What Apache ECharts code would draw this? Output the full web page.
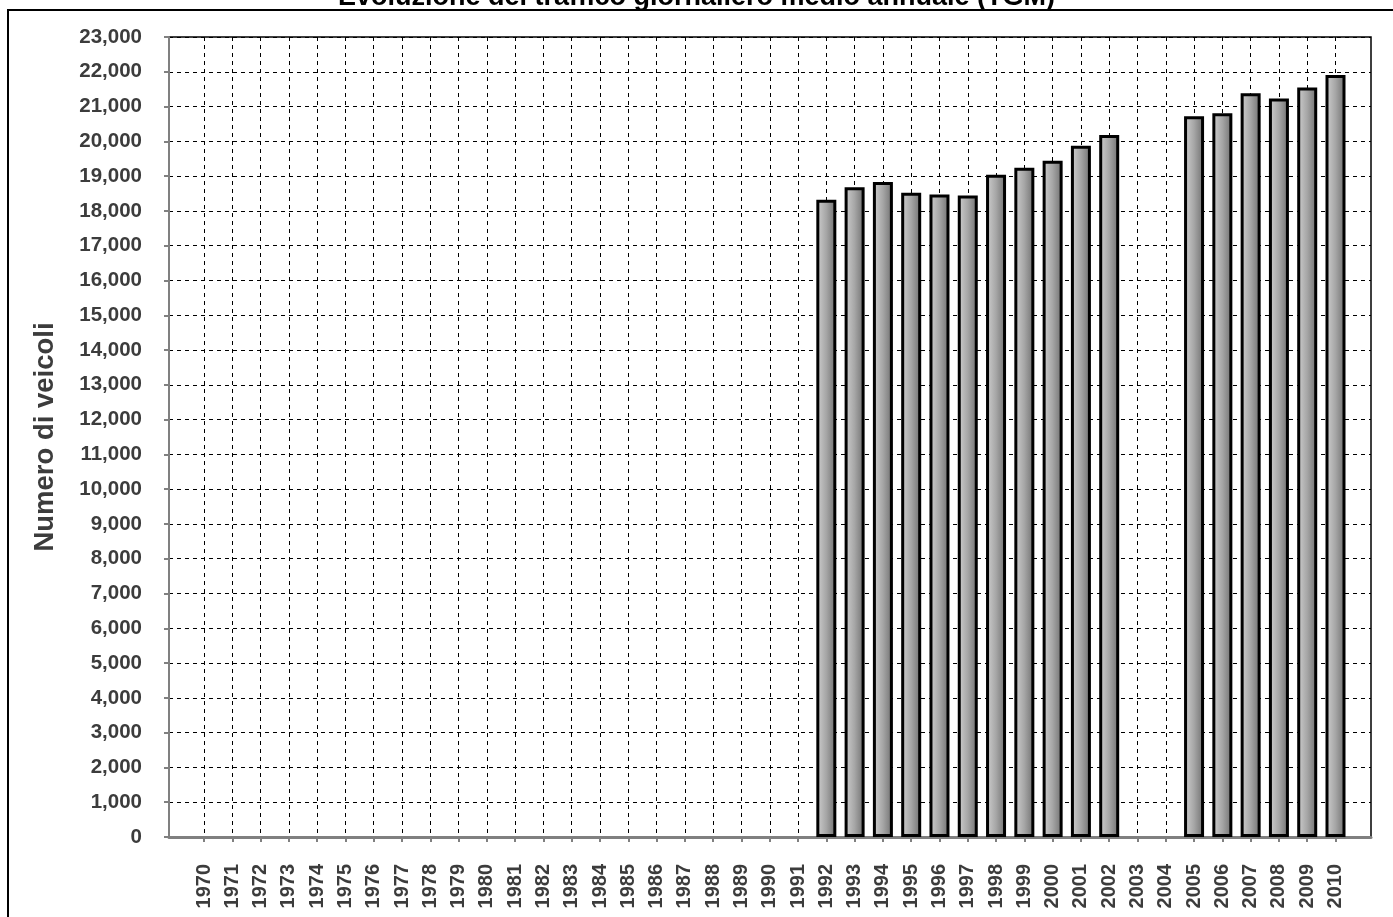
<!DOCTYPE html>
<html><head><meta charset="utf-8">
<script src="https://cdn.jsdelivr.net/npm/echarts@6/dist/echarts.min.js"></script>
<style>html,body{margin:0;padding:0;background:#fff}#c{width:1393px;height:917px}</style>
</head><body><div id="c"></div>
<script>
const titleText = 'Evoluzione del traffico giornaliero medio annuale (TGM)';
const yAxisTitle = 'Numero di veicoli';
const years = ['1970','1971','1972','1973','1974','1975','1976','1977','1978','1979',
  '1980','1981','1982','1983','1984','1985','1986','1987','1988','1989',
  '1990','1991','1992','1993','1994','1995','1996','1997','1998','1999',
  '2000','2001','2002','2003','2004','2005','2006','2007','2008','2009','2010'];
const tgm = [null,null,null,null,null,null,null,null,null,null,
  null,null,null,null,null,null,null,null,null,null,
  null,null,18320,18680,18830,18520,18470,18440,19040,19240,
  19440,19870,20180,null,null,20720,20810,21380,21230,21550,21910];
const yMin = 0, yMax = 23000, yStep = 1000;

const FONT = 'Liberation Sans, Arial, sans-serif';
const chart = echarts.init(document.getElementById('c'), null, {renderer:'canvas'});
const fmt = v => String(v).replace(/\B(?=(\d{3})+(?!\d))/g, ',');

chart.setOption({
  animation: false,
  backgroundColor: '#fff',
  title: {
    text: titleText, left: 'center', top: -21,
    textStyle: {fontFamily: FONT, fontSize: 27, fontWeight: 'bold', color: '#000'}
  },
  graphic: [{
    type: 'rect', silent: true, z: 100,
    shape: {x: 8, y: 10, width: 1400, height: 920},
    style: {fill: 'none', stroke: '#000', lineWidth: 2}
  }],
  grid: [
    {left: 169, top: 37, width: 1202, height: 800, show: true, borderColor: '#000', borderWidth: 1.5, backgroundColor: 'transparent'},
    {left: 204, top: 37, width: 1131.5, height: 800}
  ],
  xAxis: [
    {gridIndex: 0, type: 'value', min: 0, max: 1, offset: 10,
      axisLine: {show: true, lineStyle: {color: '#808080', width: 3}},
      axisTick: {show: false}, axisLabel: {show: false}, splitLine: {show: false}},
    {gridIndex: 1, type: 'category', data: years, boundaryGap: false, offset: 10,
      axisLine: {show: false},
      axisTick: {show: true, interval: 0, length: 5, lineStyle: {color: '#808080', width: 2}},
      axisLabel: {interval: 0, rotate: 90, margin: 17, fontFamily: FONT, fontSize: 20, fontWeight: 'bold', color: '#3c3c3c'},
      splitLine: {show: true, interval: 0, lineStyle: {color: '#000', type: [4, 4], width: 1}}}
  ],
  yAxis: [
    {gridIndex: 0, type: 'value', min: yMin, max: yMax, interval: yStep, offset: 11,
      axisLine: {show: true, lineStyle: {color: '#808080', width: 2}},
      axisTick: {show: true, length: 5, lineStyle: {color: '#808080', width: 2}},
      axisLabel: {margin: 16, formatter: fmt, fontFamily: FONT, fontSize: 20.5, fontWeight: 'bold', color: '#3c3c3c'},
      splitLine: {show: true, lineStyle: {color: '#000', type: [4, 4], width: 1}},
      name: yAxisTitle, nameLocation: 'middle', nameGap: 99, nameRotate: 90,
      nameTextStyle: {fontFamily: FONT, fontSize: 27.5, fontWeight: 'bold', color: '#3c3c3c'}},
    {gridIndex: 1, type: 'value', min: yMin, max: yMax, interval: yStep, show: false}
  ],
  series: [{
    type: 'bar', xAxisIndex: 1, yAxisIndex: 1, data: tgm, barWidth: 20, clip: false,
    itemStyle: {
      color: {type: 'linear', x: 0, y: 0, x2: 1, y2: 0, global: false,
        colorStops: [{offset: 0, color: '#d0d0d0'}, {offset: 0.5, color: '#a6a6a6'}, {offset: 1, color: '#6e6e6e'}]},
      borderColor: '#000', borderWidth: 3
    }
  }]
});
</script></body></html>
